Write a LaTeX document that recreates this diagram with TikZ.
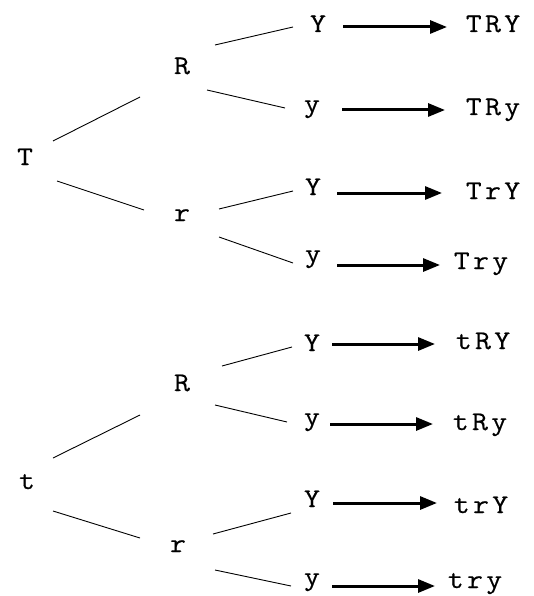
\documentclass[tikz,border=0pt]{standalone}
\usepackage{fontspec}
\newfontfamily\lblfont{Latin Modern Mono}[FakeStretch=1.15,FakeBold=0.4]
\newfontfamily\resfont{Latin Modern Mono}[FakeStretch=1.15,FakeBold=0.4,LetterSpace=12]
\usetikzlibrary{calc,arrows.meta}
\begin{document}
\begin{tikzpicture}[x=1pt,y=-1pt,
  lbl/.style={anchor=base,inner sep=0pt,font=\lblfont\fontsize{27}{27}\selectfont},
  res/.style={anchor=base,inner sep=0pt,font=\resfont\fontsize{27}{27}\selectfont},
  branch/.style={line width=0.9pt,black},
  arr/.style={line width=3pt,-{Triangle[length=17pt,width=13pt]}}]
\useasboundingbox (0,0) rectangle (533,596);
% top tree
\node[lbl] (T) at (25,165) {T};
\node[lbl] (R1) at (182,74) {R};
\node[lbl] (r1) at (182,221) {r};
\node[lbl] (Y1) at (318,32) {Y};
\node[lbl] (y2) at (312,112) {y};
\node[lbl] (Y3) at (313,195) {Y};
\node[lbl] (y4) at (313,262) {y};
\node[res] (TRY) at (493,32) {TRY};
\node[res] (TRy) at (493,115) {TRy};
\node[res] (TrY) at (493,199) {TrY};
\node[res] (Try) at (481,269) {Try};
% bottom tree
\node[lbl] (t) at (27,489) {t};
\node[lbl] (R2) at (182,391) {R};
\node[lbl] (r2) at (178,552) {r};
\node[lbl] (Y5) at (312,351) {Y};
\node[lbl] (y6) at (312,425) {y};
\node[lbl] (Y7) at (312,507) {Y};
\node[lbl] (y8) at (312,585) {y};
\node[res] (tRY) at (483,349) {tRY};
\node[res] (tRy) at (480,430) {tRy};
\node[res] (trY) at (481,513) {trY};
\node[res] (try) at (475,588) {try};
% branches top
\draw[branch] ($(T.base)+(28,-24)$) -- ($(R1.base)+(-42,23)$);
\draw[branch] ($(T.base)+(32,16)$) -- ($(r1.base)+(-38,-11)$);
\draw[branch] ($(R1.base)+(33,-29)$) -- ($(Y1.base)+(-25,-5)$);
\draw[branch] ($(R1.base)+(25,16)$) -- ($(y2.base)+(-27,-4)$);
\draw[branch] ($(r1.base)+(37,-12)$) -- ($(Y3.base)+(-20,-4)$);
\draw[branch] ($(r1.base)+(37,16)$) -- ($(y4.base)+(-20,1)$);
% branches bottom
\draw[branch] ($(t.base)+(26,-31)$) -- ($(R2.base)+(-42,24)$);
\draw[branch] ($(t.base)+(26,22)$) -- ($(r2.base)+(-38,-14)$);
\draw[branch] ($(R2.base)+(40,-25)$) -- ($(Y5.base)+(-20,-4)$);
\draw[branch] ($(R2.base)+(33,14)$) -- ($(y6.base)+(-25,-3)$);
\draw[branch] ($(r2.base)+(35,-18)$) -- ($(Y7.base)+(-21,6)$);
\draw[branch] ($(r2.base)+(37,18)$) -- ($(y8.base)+(-21,1)$);
% arrows
\draw[arr] ($(Y1.base)+(25,-5)$) -- ($(TRY.base)+(-46,-5)$);
\draw[arr] ($(y2.base)+(30,-2)$) -- ($(TRy.base)+(-48,-5)$);
\draw[arr] ($(Y3.base)+(24,-2)$) -- ($(TrY.base)+(-51,-6)$);
\draw[arr] ($(y4.base)+(24,3)$) -- ($(Try.base)+(-41,-4)$);
\draw[arr] ($(Y5.base)+(20,-7)$) -- ($(tRY.base)+(-48,-5)$);
\draw[arr] ($(y6.base)+(18,-1)$) -- ($(tRy.base)+(-47,-6)$);
\draw[arr] ($(Y7.base)+(21,-4)$) -- ($(trY.base)+(-44,-10)$);
\draw[arr] ($(y8.base)+(20,1)$) -- ($(try.base)+(-40,-2)$);
\end{tikzpicture}
\end{document}
